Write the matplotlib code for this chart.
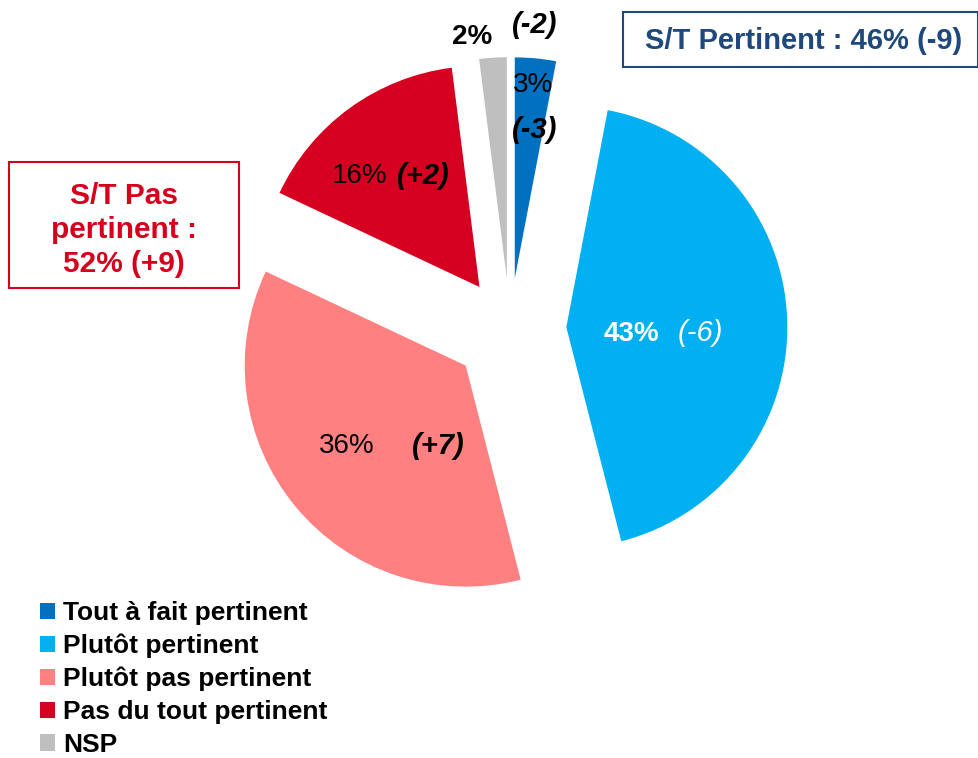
import matplotlib
matplotlib.use("Agg")
import matplotlib.pyplot as plt
from matplotlib.patches import Rectangle

# données
categories = ["Tout à fait pertinent", "Plutôt pertinent", "Plutôt pas pertinent",
              "Pas du tout pertinent", "NSP"]
shares = [3, 43, 36, 16, 2]
changes = [-3, -6, 7, 2, -2]
colors = ["#0070C0", "#00B0F0", "#FF8080", "#D60021", "#BFBFBF"]
summary_pos = "S/T Pertinent : 46% (-9)"
summary_neg = "S/T Pas\npertinent :\n52% (+9)"

W, H = 979, 758
CX, CY, R = 510, 329, 221
explode = [0.23, 0.255, 0.26, 0.235, 0.23]

NAVY = "#1F497D"
RED = "#D6001C"


def fxy(px, py):
    return px / W, 1 - py / H


plt.rcParams['font.family'] = ['Liberation Sans', 'DejaVu Sans']
fig = plt.figure(figsize=(W / 100, H / 100), dpi=100)
ax = fig.add_axes([0, 0, 1, 1])
wedges, _ = ax.pie(shares, colors=colors, startangle=90, counterclock=False,
                   explode=explode, radius=1, wedgeprops=dict(linewidth=0))
ax.set_xlim(-CX / R, (W - CX) / R)
ax.set_ylim(-(H - CY) / R, CY / R)
ax.axis('off')

# étiquettes des parts
value_pos = [(533, 85), (631, 334), (347, 446), (360, 176), (472, 37)]
change_pos = [(535, 130), (700, 333), (438, 446), (423, 176), (535, 25)]
value_style = [("normal", "black"), ("bold", "white"), ("normal", "black"),
               ("normal", "black"), ("bold", "black")]
for i, (v, d) in enumerate(zip(shares, changes)):
    w, c = value_style[i]
    fig.text(*fxy(*value_pos[i]), f"{v}%", ha="center", va="center",
             fontsize=20, fontweight=w, color=c)
    cw = "normal" if i == 1 else "bold"
    cc = "white" if i == 1 else "black"
    fig.text(*fxy(*change_pos[i]), f"({d:+d})" if d > 0 else f"({d})",
             ha="center", va="center", fontsize=21, fontweight=cw,
             fontstyle="italic", color=cc)

# encadrés
x0, y0 = fxy(623, 67)
fig.add_artist(Rectangle((x0, y0), (978 - 623) / W, (67 - 12) / H,
                         transform=fig.transFigure, fill=False,
                         edgecolor=NAVY, linewidth=1.5))
fig.text(*fxy(804, 41), summary_pos, ha="center", va="center",
         fontsize=21, fontweight="bold", color=NAVY)

x0, y0 = fxy(9, 288)
fig.add_artist(Rectangle((x0, y0), (239 - 9) / W, (288 - 162) / H,
                         transform=fig.transFigure, fill=False,
                         edgecolor=RED, linewidth=1.5))
fig.text(*fxy(124, 230), summary_neg, ha="center", va="center",
         fontsize=21.5, fontweight="bold", color=RED, linespacing=1.25)

# légende
ax.legend(wedges, categories, loc="upper left", bbox_to_anchor=fxy(40, 601),
          bbox_transform=fig.transFigure, frameon=False,
          prop=dict(size=19, weight="bold"), handlelength=0.56,
          handleheight=0.56, handletextpad=0.32, labelspacing=0.33,
          borderpad=0, borderaxespad=0)

fig.savefig("out.png", dpi=100)
